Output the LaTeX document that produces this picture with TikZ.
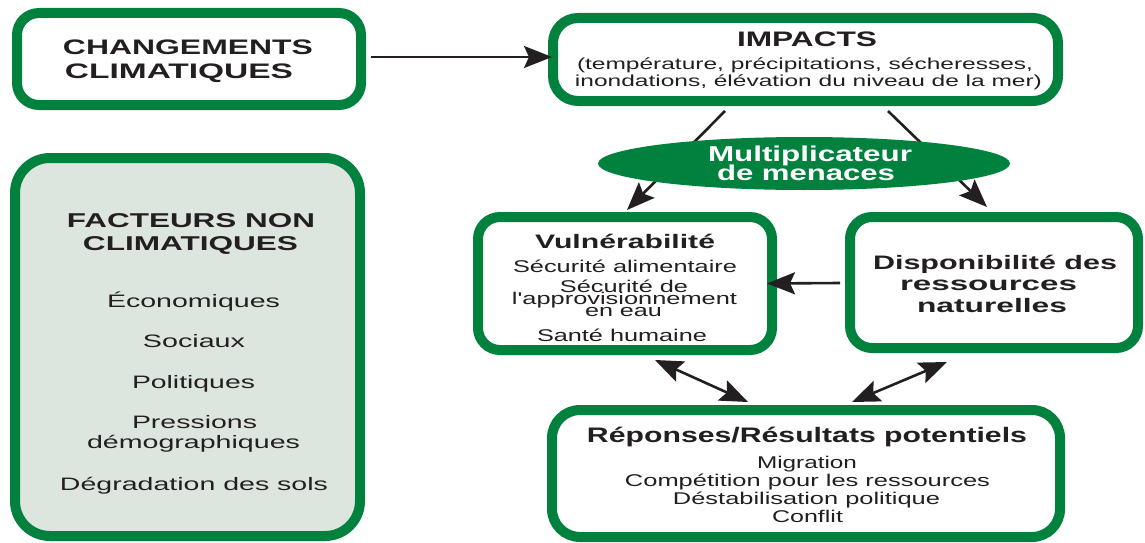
\documentclass[tikz,border=0pt]{standalone}
\usepackage{fontspec}
\usepackage{graphicx}
\setmainfont{Liberation Sans}
\usetikzlibrary{arrows.meta,shapes.geometric}
\definecolor{dgreen}{RGB}{0,130,62}
\definecolor{lfill}{RGB}{221,230,222}
\definecolor{ink}{RGB}{35,31,32}
\newcommand\fs[1]{\fontsize{#1}{#1}\selectfont}
\newcommand\fitw[2]{\resizebox{#1}{\height}{#2}}
\tikzset{
  box/.style={draw=dgreen, line width=10pt, rounded corners=22pt, fill=white, inner sep=0pt},
  txt/.style={anchor=base, inner sep=0pt, text=ink},
  wtxt/.style={anchor=base, inner sep=0pt, text=white},
  arr/.style={draw=ink, line width=2.6pt, -{Stealth[length=28pt,width=22pt,inset=5pt]}},
  darr/.style={draw=ink, line width=2.6pt, {Stealth[length=28pt,width=22pt,inset=5pt]}-{Stealth[length=28pt,width=22pt,inset=5pt]}},
  bt/.style={font=\bfseries\fs{#1}},
  rt/.style={font=\fs{#1}}
}
\begin{document}
\begin{tikzpicture}[x=1pt,y=-1pt]
\useasboundingbox (0,0) rectangle (1145,543);
\fill[white] (0,0) rectangle (1145,543);

% boxes
\node[box, minimum width=344pt, minimum height=92pt] (chg) at (189,59) {};
\node[box, minimum width=505pt, minimum height=83pt, rounded corners=25pt] (imp) at (805.5,59.5) {};
\node[box, minimum width=294pt, minimum height=133pt] (vul) at (625,283.5) {};
\node[box, minimum width=288pt, minimum height=131pt] (dis) at (994,282.5) {};
\node[box, minimum width=508pt, minimum height=127pt, rounded corners=28pt] (rep) at (806,473.5) {};
\node[box, fill=lfill, minimum width=345pt, minimum height=378pt, rounded corners=35pt] (fac) at (187.5,347) {};

% connectors
\draw[arr] ([xshift=5pt,yshift=2pt]chg.east) -- ([xshift=4pt,yshift=2.5pt]imp.west);
\draw[arr] ([xshift=-80.5pt,yshift=-5pt]imp.south) -- ([xshift=2pt,yshift=2pt]vul.north);
\draw[arr] ([xshift=82.5pt,yshift=-5pt]imp.south) -- ([xshift=-7pt,yshift=5pt]dis.north);
\draw[arr] ([xshift=-5pt,yshift=-0.5pt]dis.west) -- ([xshift=-10pt]vul.east);
\draw[darr] ([xshift=30pt,yshift=-5pt]vul.south) -- ([xshift=-58pt,yshift=3pt]rep.north);
\draw[darr] ([xshift=-47pt,yshift=-9pt]dis.south) -- ([xshift=46pt,yshift=3pt]rep.north);

% ellipse
\node[ellipse, fill=dgreen, minimum width=412pt, minimum height=53pt, inner sep=0pt] (mul) at (804,163.5) {};

% texts
\node[txt, bt=21] (chg1) at (188,55) {\fitw{250pt}{CHANGEMENTS}};
\node[txt, bt=21] (chg2) at (179,78) {\fitw{228pt}{CLIMATIQUES}};

\node[txt, bt=21] (imp1) at (807,47) {\fitw{140pt}{IMPACTS}};
\node[txt, rt=16] (imp2) at (805,70) {\fitw{456pt}{(température, précipitations, sécheresses,}};
\node[txt, rt=16] (imp3) at (808.5,86) {\fitw{467pt}{inondations, élévation du niveau de la mer)}};

\node[wtxt, bt=21.5] (mul1) at (810,161) {\fitw{204pt}{Multiplicateur}};
\node[wtxt, bt=21.5] (mul2) at (806,180) {\fitw{178pt}{de menaces}};

\node[txt, bt=19.5] (vul1) at (625,248) {\fitw{180pt}{Vulnérabilité}};
\node[txt, rt=17] (vul2) at (625,272) {\fitw{224pt}{Sécurité alimentaire}};
\node[txt, rt=17] (vul3) at (624,292) {\fitw{128pt}{Sécurité de}};
\node[txt, rt=17] (vul4) at (624.5,304) {\fitw{225pt}{l\textquotesingle approvisionnement}};
\node[txt, rt=17] (vul5) at (623.5,316) {\fitw{77pt}{en eau}};
\node[txt, rt=17] (vul6) at (622,341) {\fitw{170pt}{Santé humaine}};

\node[txt, bt=19.5] (dis1) at (995,269) {\fitw{244pt}{Disponibilité des}};
\node[txt, bt=19.5] (dis2) at (988.5,290) {\fitw{177pt}{ressources}};
\node[txt, bt=19.5] (dis3) at (992,312) {\fitw{150pt}{naturelles}};

\node[txt, bt=21] (rep1) at (807,442) {\fitw{440pt}{Réponses/Résultats potentiels}};
\node[txt, rt=17] (rep2) at (807,468) {\fitw{100pt}{Migration}};
\node[txt, rt=17] (rep3) at (807.5,486) {\fitw{365pt}{Compétition pour les ressources}};
\node[txt, rt=17] (rep4) at (806.5,504) {\fitw{267pt}{Déstabilisation politique}};
\node[txt, rt=17] (rep5) at (807.5,522) {\fitw{71pt}{Conflit}};

\node[txt, bt=20] (fac1) at (191,227) {\fitw{248pt}{FACTEURS NON}};
\node[txt, bt=20] (fac2) at (190.5,250) {\fitw{215pt}{CLIMATIQUES}};
\node[txt, rt=18] (fac3) at (193.5,307) {\fitw{173pt}{Économiques}};
\node[txt, rt=18] (fac4) at (194,347) {\fitw{102pt}{Sociaux}};
\node[txt, rt=18] (fac5) at (193.5,388) {\fitw{123pt}{Politiques}};
\node[txt, rt=18] (fac6) at (194.5,428) {\fitw{125pt}{Pressions}};
\node[txt, rt=18] (fac7) at (193.5,448) {\fitw{213pt}{démographiques}};
\node[txt, rt=18] (fac8) at (194,490) {\fitw{268pt}{Dégradation des sols}};
\end{tikzpicture}
\end{document}
